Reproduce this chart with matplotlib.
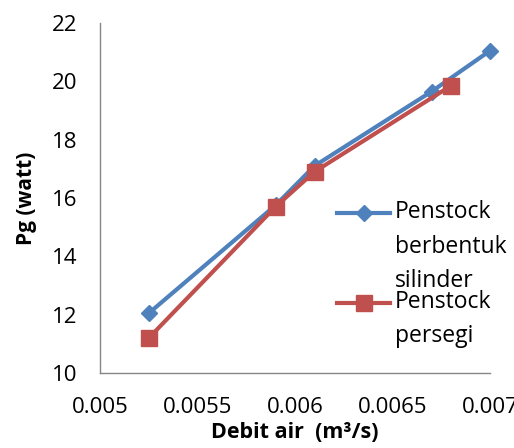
import matplotlib.pyplot as plt

# data
debit_silinder = [0.00525, 0.0059, 0.0061, 0.0067, 0.0070]
pg_silinder = [12.05, 15.75, 17.1, 19.65, 21.05]

debit_persegi = [0.00525, 0.0059, 0.0061, 0.0068]
pg_persegi = [11.2, 15.7, 16.9, 19.85]

label_silinder = "Penstock\nberbentuk\nsilinder"
label_persegi = "Penstock\npersegi"

x_ticks = [0.005, 0.0055, 0.006, 0.0065, 0.007]
x_ticklabels = ["0.005", "0.0055", "0.006", "0.0065", "0.007"]
y_ticks = [10, 12, 14, 16, 18, 20, 22]

biru = "#4F81BD"
merah = "#C0504D"

plt.rcParams['font.family'] = ['Open Sans', 'DejaVu Sans']

fig = plt.figure(figsize=(5.14, 4.48), dpi=100)
ax = fig.add_axes([0.1946, 0.1674, 0.7588, 0.7813])

ax.plot(debit_silinder, pg_silinder, color=biru, lw=3, marker='D', ms=8,
        clip_on=False, zorder=3)
ax.plot(debit_persegi, pg_persegi, color=merah, lw=3, marker='s', ms=11,
        clip_on=False, zorder=4)

ax.set_xlim(0.005, 0.007)
ax.set_ylim(10, 22)
ax.set_xticks(x_ticks)
ax.set_xticklabels(x_ticklabels)
ax.set_yticks(y_ticks)
ax.tick_params(length=0, labelsize=16, colors="black")
ax.tick_params(axis='x', pad=17)
ax.tick_params(axis='y', pad=16)

for s in ['top', 'right']:
    ax.spines[s].set_visible(False)
for s in ['left', 'bottom']:
    ax.spines[s].set_color("#868686")
    ax.spines[s].set_linewidth(1)

ax.set_xlabel("Debit air  (m³/s)", fontsize=15.5, fontweight='bold', labelpad=3)
ax.set_ylabel("Pg (watt)", fontsize=15, fontweight='bold', labelpad=11)

# legend drawn by hand like Excel (marker on the first line)
legenda = [(label_silinder, biru, 'D', 8, 0.457), (label_persegi, merah, 's', 11, 0.2)]
for teks, warna, mk, ukuran, yy in legenda:
    ax.plot([0.608, 0.744], [yy, yy], color=warna, lw=3, transform=ax.transAxes,
            clip_on=False, zorder=5)
    ax.plot([0.676], [yy], color=warna, marker=mk, ms=ukuran, transform=ax.transAxes,
            clip_on=False, zorder=5)
    ax.text(0.756, yy + 0.038, teks, transform=ax.transAxes, fontsize=16.5,
            va='top', ha='left', linespacing=1.6, zorder=6)

fig.savefig("out.png", dpi=100)
